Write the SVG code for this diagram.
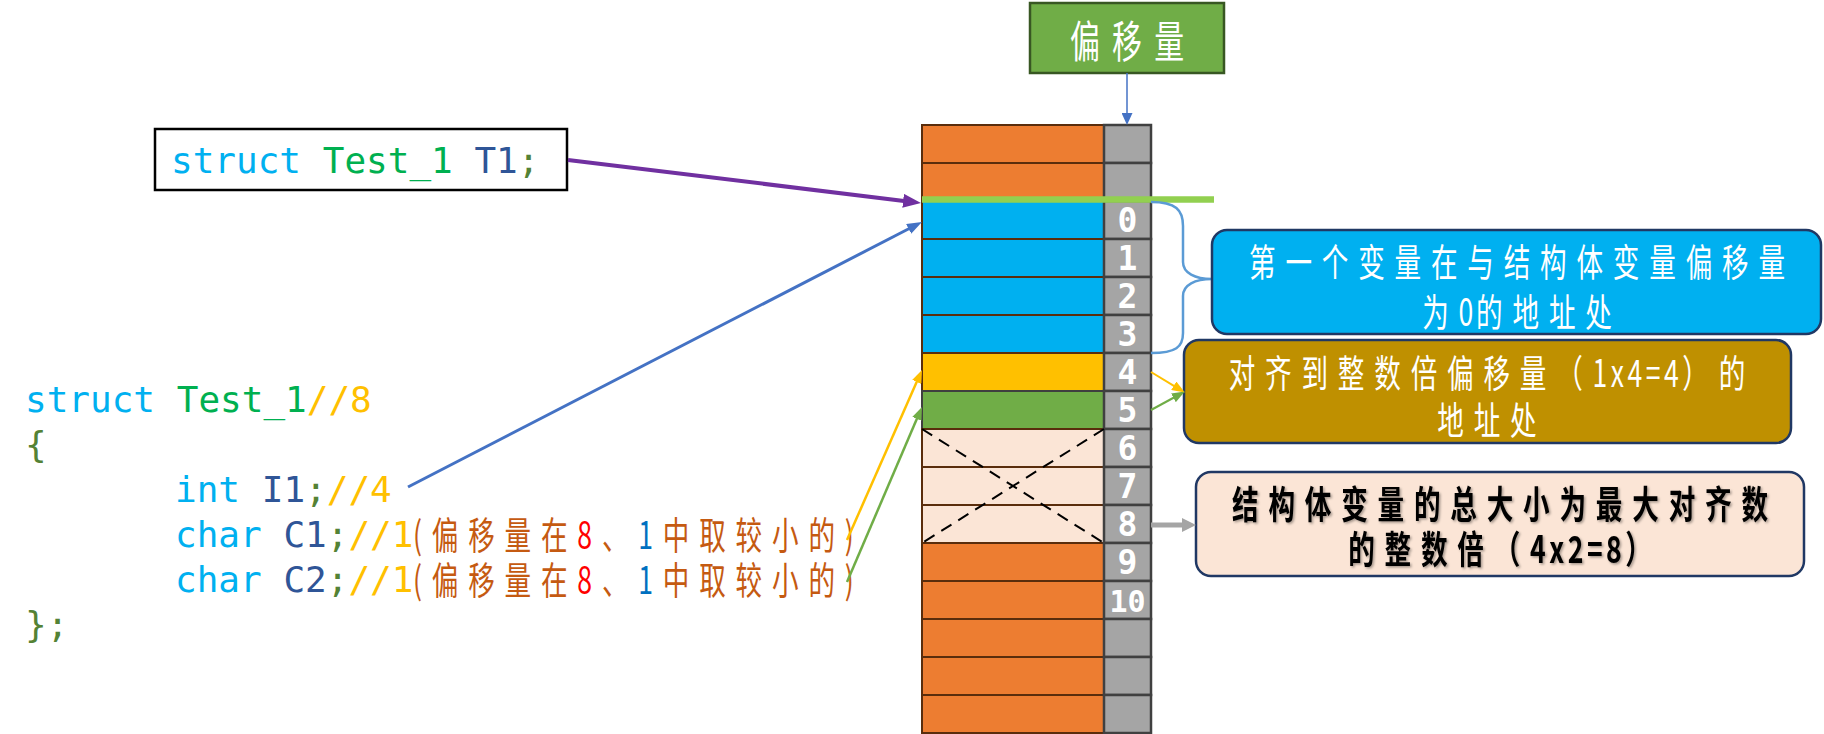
<svg xmlns="http://www.w3.org/2000/svg" width="1824" height="734" viewBox="0 0 1824 734">
<style>
.mono{font-family:"DejaVu Sans Mono","Liberation Mono",monospace;font-size:36px;white-space:pre}
.cj{font-family:"Noto Sans CJK SC","Noto Sans",sans-serif;font-size:38px;letter-spacing:14px;white-space:pre}
.num{font-family:"DejaVu Sans Mono","Liberation Mono",monospace;font-size:33px;font-weight:bold;fill:#fff;text-anchor:middle}
.cell{stroke:#5A2D0C;stroke-width:2}
.or{fill:#ED7D31}
.bl{fill:#00B0F0}
.pe{fill:#FBE5D6}
.gy{fill:#A5A5A5;stroke:#404040;stroke-width:2.5}
.kw{fill:#00B0F0}
.ty{fill:#00B050}
.id{fill:#2F5597}
.sc{fill:#548235}
.cm{fill:#FFC000}
.br{fill:#C55A11}
.box{stroke:#203864;stroke-width:2.5}
</style>
<defs>
<marker id="mPurple" markerUnits="userSpaceOnUse" markerWidth="18" markerHeight="14" viewBox="0 0 10 10" preserveAspectRatio="none" refX="0.5" refY="5" orient="auto"><path d="M0,0 L10,5 L0,10 z" fill="#7030A0"/></marker>
<marker id="mBlue" markerUnits="userSpaceOnUse" markerWidth="15" markerHeight="11" viewBox="0 0 10 10" preserveAspectRatio="none" refX="0.5" refY="5" orient="auto"><path d="M0,0 L10,5 L0,10 z" fill="#4472C4"/></marker>
<marker id="mTop" markerUnits="userSpaceOnUse" markerWidth="12" markerHeight="11" viewBox="0 0 10 10" preserveAspectRatio="none" refX="0.5" refY="5" orient="auto"><path d="M0,0 L10,5 L0,10 z" fill="#4472C4"/></marker>
<marker id="mYel" markerUnits="userSpaceOnUse" markerWidth="13" markerHeight="10" viewBox="0 0 10 10" preserveAspectRatio="none" refX="0.5" refY="5" orient="auto"><path d="M0,0 L10,5 L0,10 z" fill="#FFC000"/></marker>
<marker id="mGrn" markerUnits="userSpaceOnUse" markerWidth="13" markerHeight="10" viewBox="0 0 10 10" preserveAspectRatio="none" refX="0.5" refY="5" orient="auto"><path d="M0,0 L10,5 L0,10 z" fill="#70AD47"/></marker>
<marker id="mGray" markerUnits="userSpaceOnUse" markerWidth="14" markerHeight="14" viewBox="0 0 10 10" preserveAspectRatio="none" refX="0.5" refY="5" orient="auto"><path d="M0,0 L10,5 L0,10 z" fill="#A5A5A5"/></marker>
<filter id="sh" x="-5%" y="-20%" width="110%" height="140%"><feDropShadow dx="1.5" dy="1.5" stdDeviation="1" flood-color="#000" flood-opacity="0.35"/></filter>
</defs>
<rect width="1824" height="734" fill="#fff"/>

<g id="node-memory">
<rect class="cell or" x="922" y="125" width="182" height="38"/>
<rect class="cell or" x="922" y="163" width="182" height="38"/>
<rect class="cell bl" x="922" y="201" width="182" height="38"/>
<rect class="cell bl" x="922" y="239" width="182" height="38"/>
<rect class="cell bl" x="922" y="277" width="182" height="38"/>
<rect class="cell bl" x="922" y="315" width="182" height="38"/>
<rect class="cell" x="922" y="353" width="182" height="38" fill="#FFC000"/>
<rect x="922" y="391" width="182" height="38" fill="#70AD47" stroke="#3F3F3F" stroke-width="2"/>
<rect class="cell pe" x="922" y="429" width="182" height="38"/>
<rect class="cell pe" x="922" y="467" width="182" height="38"/>
<rect class="cell pe" x="922" y="505" width="182" height="38"/>
<rect class="cell or" x="922" y="543" width="182" height="38"/>
<rect class="cell or" x="922" y="581" width="182" height="38"/>
<rect class="cell or" x="922" y="619" width="182" height="38"/>
<rect class="cell or" x="922" y="657" width="182" height="38"/>
<rect class="cell or" x="922" y="695" width="182" height="38"/>
<rect class="gy" x="1104" y="125" width="47" height="38"/>
<rect class="gy" x="1104" y="163" width="47" height="38"/>
<rect class="gy" x="1104" y="201" width="47" height="38"/>
<rect class="gy" x="1104" y="239" width="47" height="38"/>
<rect class="gy" x="1104" y="277" width="47" height="38"/>
<rect class="gy" x="1104" y="315" width="47" height="38"/>
<rect class="gy" x="1104" y="353" width="47" height="38"/>
<rect class="gy" x="1104" y="391" width="47" height="38"/>
<rect class="gy" x="1104" y="429" width="47" height="38"/>
<rect class="gy" x="1104" y="467" width="47" height="38"/>
<rect class="gy" x="1104" y="505" width="47" height="38"/>
<rect class="gy" x="1104" y="543" width="47" height="38"/>
<rect class="gy" x="1104" y="581" width="47" height="38"/>
<rect class="gy" x="1104" y="619" width="47" height="38"/>
<rect class="gy" x="1104" y="657" width="47" height="38"/>
<rect class="gy" x="1104" y="695" width="47" height="38"/>
<path d="M922,429 L1104,543 M1104,429 L922,543" stroke="#000" stroke-width="2" stroke-dasharray="12 8" fill="none"/>
<line x1="922" y1="199.5" x2="1214" y2="199.5" stroke="#92D050" stroke-width="6.5"/>
<text class="num" x="1127.5" y="232">0</text>
<text class="num" x="1127.5" y="270">1</text>
<text class="num" x="1127.5" y="308">2</text>
<text class="num" x="1127.5" y="346">3</text>
<text class="num" x="1127.5" y="384">4</text>
<text class="num" x="1127.5" y="422">5</text>
<text class="num" x="1127.5" y="460">6</text>
<text class="num" x="1127.5" y="498">7</text>
<text class="num" x="1127.5" y="536">8</text>
<text class="num" x="1127.5" y="574">9</text>
<text class="num" x="1127.5" y="612" style="font-size:30px">10</text>
</g>

<g id="node-offset">
<rect x="1030" y="3" width="194" height="70" fill="#70AD47" stroke="#385723" stroke-width="2.5"/>
<text class="cj" transform="translate(1127,58) scale(0.68,1)" x="9" text-anchor="middle" fill="#fff" style="font-size:44px;letter-spacing:18px">偏移量</text>
</g>

<g id="node-t1">
<rect x="155" y="129" width="412" height="61" fill="#fff" stroke="#000" stroke-width="2.5"/>
<text class="mono" x="171" y="173"><tspan class="kw">struct</tspan><tspan class="ty"> Test_1</tspan><tspan class="id"> T1</tspan><tspan class="sc">;</tspan></text>
</g>

<g id="node-code">
<text class="mono" x="25" y="412"><tspan class="kw">struct</tspan><tspan class="ty"> Test_1</tspan><tspan class="cm">//8</tspan></text>
<text class="mono sc" x="25" y="457">{</text>
<text class="mono" x="175" y="502"><tspan class="kw">int</tspan><tspan class="id"> I1</tspan><tspan class="sc">;</tspan><tspan class="cm">//4</tspan></text>
<text class="mono" x="175" y="547"><tspan class="kw">char</tspan><tspan class="id"> C1</tspan><tspan class="sc">;</tspan><tspan class="cm">//1</tspan></text>
<text class="cj br" transform="translate(413,548.5) scale(0.7,1)">(偏移量在<tspan fill="#FF0000">8</tspan>、<tspan fill="#0070C0">1</tspan>中取较小的)</text>
<text class="mono" x="175" y="592"><tspan class="kw">char</tspan><tspan class="id"> C2</tspan><tspan class="sc">;</tspan><tspan class="cm">//1</tspan></text>
<text class="cj br" transform="translate(413,593.5) scale(0.7,1)">(偏移量在<tspan fill="#FF0000">8</tspan>、<tspan fill="#0070C0">1</tspan>中取较小的)</text>
<text class="mono sc" x="25" y="637">};</text>
</g>

<g id="node-note1">
<path d="M1151,202 C1176,202 1183,210 1183,226 L1183,262 C1183,273 1195,279 1212,279 C1195,279 1183,285 1183,296 L1183,333 C1183,347 1176,353 1151,353" fill="none" stroke="#5B9BD5" stroke-width="2.5"/>
<rect class="box" x="1212" y="230" width="609" height="104" rx="15" fill="#00B0F0"/>
<text class="cj" transform="translate(1517,276) scale(0.7,1)" x="7" text-anchor="middle" fill="#fff">第一个变量在与结构体变量偏移量</text>
<text class="cj" transform="translate(1517,326) scale(0.7,1)" x="7" text-anchor="middle" fill="#fff">为<tspan style="letter-spacing:4px">0</tspan>的地址处</text>
</g>

<g id="node-note2">
<rect class="box" x="1184" y="340" width="607" height="103" rx="15" fill="#BF9000"/>
<text class="cj" transform="translate(1487,387) scale(0.7,1)" x="7" text-anchor="middle" fill="#fff">对齐到整数倍偏移量（<tspan style="letter-spacing:5px">1x4=4</tspan>）的</text>
<text class="cj" transform="translate(1487,434) scale(0.7,1)" x="7" text-anchor="middle" fill="#fff">地址处</text>
</g>

<g id="node-note3">
<rect class="box" x="1196" y="472" width="608" height="104" rx="15" fill="#FBE5D6"/>
<g filter="url(#sh)">
<text class="cj" transform="translate(1500,518) scale(0.7,1)" x="7" text-anchor="middle" fill="#000" font-weight="700">结构体变量的总大小为最大对齐数</text>
<text class="cj" transform="translate(1500,563) scale(0.7,1)" x="7" text-anchor="middle" fill="#000" font-weight="700">的整数倍（<tspan style="letter-spacing:5px">4x2=8</tspan>）</text>
</g>
</g>

<g id="connectors" fill="none">
<line x1="1127" y1="73" x2="1127" y2="113.6" stroke="#4472C4" stroke-width="1.5" marker-end="url(#mTop)"/>
<line x1="568" y1="160" x2="904" y2="200.9" stroke="#7030A0" stroke-width="4" marker-end="url(#mPurple)"/>
<line x1="408" y1="487" x2="909.3" y2="228.5" stroke="#4472C4" stroke-width="3" marker-end="url(#mBlue)"/>
<line x1="847" y1="540" x2="917" y2="381.3" stroke="#FFC000" stroke-width="2.5" marker-end="url(#mYel)"/>
<line x1="847" y1="582" x2="917.1" y2="418.3" stroke="#70AD47" stroke-width="2.5" marker-end="url(#mGrn)"/>
<line x1="1151" y1="372" x2="1174.3" y2="386.1" stroke="#FFC000" stroke-width="2" marker-end="url(#mYel)"/>
<line x1="1151" y1="410" x2="1174" y2="397.5" stroke="#70AD47" stroke-width="2" marker-end="url(#mGrn)"/>
<line x1="1151" y1="525" x2="1182.7" y2="525" stroke="#A5A5A5" stroke-width="5" marker-end="url(#mGray)"/>
</g>
</svg>
